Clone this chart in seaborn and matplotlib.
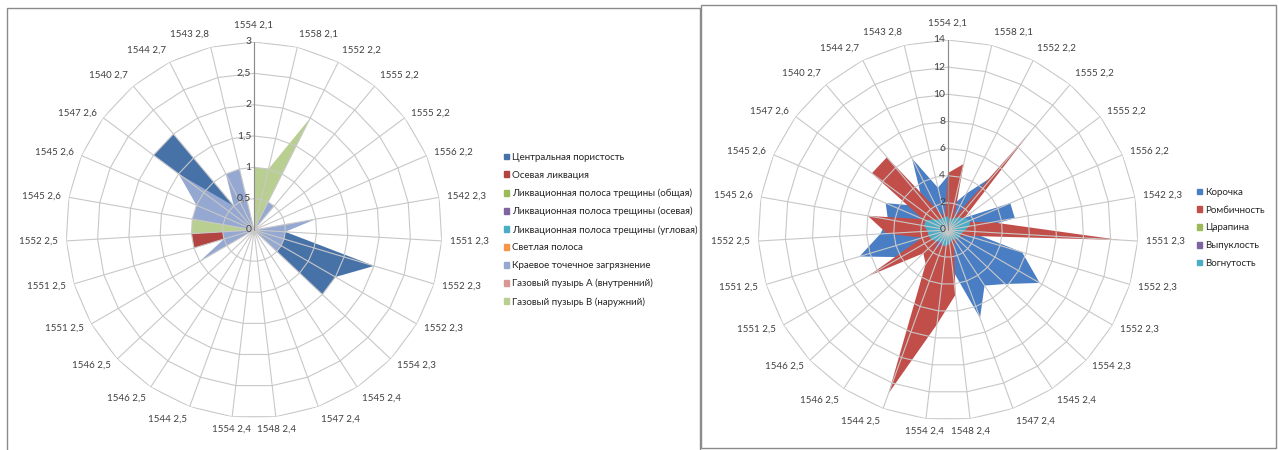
import numpy as np
import matplotlib
matplotlib.use('Agg')
import matplotlib.pyplot as plt
from matplotlib.patches import Patch, Rectangle
import seaborn as sns

sns.set_theme(style='white')
plt.rcParams['font.family'] = ['Lato', 'DejaVu Sans']
plt.rcParams['font.size'] = 7

# categories (clockwise from the top)
categories = ['1554 2,1', '1558 2,1', '1552 2,2', '1555 2,2', '1555 2,2', '1556 2,2',
              '1542 2,3', '1551 2,3', '1552 2,3', '1552 2,3', '1554 2,3', '1545 2,4',
              '1547 2,4', '1548 2,4', '1554 2,4', '1544 2,5', '1546 2,5', '1546 2,5',
              '1551 2,5', '1551 2,5', '1552 2,5', '1545 2,6', '1545 2,6', '1547 2,6',
              '1540 2,7', '1544 2,7', '1543 2,8']

# left chart
left_names = ['Центральная пористость', 'Осевая ликвация',
              'Ликвационная полоса трещины (общая)', 'Ликвационная полоса трещины (осевая)',
              'Ликвационная полоса трещины (угловая)', 'Светлая полоса',
              'Краевое точечное загрязнение', 'Газовый пузырь A (внутренний)',
              'Газовый пузырь B (наружний)']
left_colors = ['#4672A8', '#B24541', '#9BBB59', '#8064A2', '#4BACC6', '#F79646',
               '#95A8D2', '#D99694', '#B9CF92']
central_porosity = [0, 0, 0, 0, 0, 0, 0, 0.5, 2, 1.5, 1.5, 0, 0, 0, 0, 0, 0, 0,
                    0, 0, 0, 0, 0, 2, 2, 0, 0]
axial_segregation = [0, 0, 0, 0, 0, 0, 0, 0, 0, 0, 0, 0, 0, 0, 0, 0, 0, 0,
                     0, 1, 1, 0, 0, 0, 0, 0, 0]
crack_total = [0] * 27
crack_axial = [0] * 27
crack_corner = [0] * 27
light_band = [0] * 27
edge_dots = [0, 0, 0.5, 0.5, 0, 0, 1, 0.5, 0.5, 0.5, 0.5, 0, 0, 0, 0, 0, 0, 0,
             1, 0.5, 0.5, 1, 1, 1.5, 0.5, 1, 1]
gas_bubble_a = [0] * 27
gas_bubble_b = [1, 1, 2, 0, 0, 0, 0, 0, 0, 0, 0, 0, 0, 0, 0, 0, 0, 0,
                0, 0, 1, 1, 0, 0, 0, 0, 0]
left_series = [central_porosity, axial_segregation, crack_total, crack_axial,
               crack_corner, light_band, edge_dots, gas_bubble_a, gas_bubble_b]

# right chart
right_names = ['Корочка', 'Ромбичность', 'Царапина', 'Выпуклость', 'Вогнутость']
right_colors = ['#4A7EC4', '#C24E4A', '#9BBB59', '#8064A2', '#4BACC6']
crust = [4, 2, 3, 5.2, 1.5, 5, 5, 1.5, 5.7, 7.8, 5.8, 4.9, 6.9, 3, 2, 2, 2, 2,
         4, 6.8, 5, 4.5, 5, 3, 3, 5.9, 3.2]
rhombic = [4.2, 5, 1, 9.5, 1.5, 1.5, 3.3, 12.7, 1.5, 1, 1, 1, 1.3, 4.8, 7, 12.8, 3, 2.5,
           6.8, 2, 4.5, 6, 2, 7, 7, 1.5, 1]
scratch = [0] * 27
convex = [0, 0, 0.8, 1.5, 0.8, 0, 0, 0, 0, 0, 0, 0, 1, 1, 0, 1, 1.8, 1,
          0, 0, 0, 0, 0, 0, 0, 0, 0]
concave = [1, 0.8, 1, 1.2, 1.5, 1.8, 1.6, 1.2, 1, 1, 1, 0.8, 0.8, 1, 1.2, 1.2, 1, 1.2,
           1.4, 1.5, 1.5, 1.8, 1.8, 1.3, 1, 1, 1]
right_series = [crust, rhombic, scratch, convex, concave]

GRID = '#C8C8C8'


def radar(ax, series, colors, rmax, rstep):
    n = len(categories)
    angles = np.arange(n) * 2 * np.pi / n
    closed = np.append(angles, angles[0])
    ax.set_theta_zero_location('N')
    ax.set_theta_direction(-1)
    for vals, c in zip(series, colors):
        ax.fill(closed, np.append(vals, vals[0]), color=c, lw=0, zorder=1)

    ax.set_ylim(0, rmax)
    ax.set_yticks([])
    ax.set_xticks(angles)
    ax.set_xticklabels([])
    ax.spines['polar'].set_visible(False)
    ax.xaxis.grid(True, color=GRID, lw=0.8)
    ax.set_axisbelow(False)
    ax.set_facecolor('none')

    rings = np.arange(rstep, rmax + rstep / 2, rstep)
    for r in rings:
        ax.plot(closed, np.full(len(closed), r), color=GRID, lw=0.8, zorder=3)
    ax.plot([0, 0], [0, rmax], color='#8C8C8C', lw=0.8, zorder=4)

    for r in np.append(0, rings):
        ax.annotate(f'{r:g}'.replace('.', ','), xy=(0, r), xytext=(-2, 0),
                    textcoords='offset points', ha='right', va='center',
                    color='#404040', fontsize=7.5, zorder=5)

    for a, lab in zip(angles, categories):
        s, c = np.sin(a), np.cos(a)
        ha = 'center' if abs(s) < 0.15 else ('left' if s > 0 else 'right')
        va = 'center' if abs(c) < 0.7 else ('bottom' if c > 0 else 'top')
        off = 9 if a == 0 else 6
        ax.annotate(lab, xy=(a, rmax), xytext=(off * s, off * c),
                    textcoords='offset points', ha=ha, va=va,
                    color='#404040', annotation_clip=False)


fig = plt.figure(figsize=(12.79, 4.5), dpi=100)
W, H = 1279, 450

ax1 = fig.add_axes([66 / W, 1 - 418 / H, 376 / W, 376 / H], projection='polar')
radar(ax1, left_series, left_colors, 3, 0.5)

ax2 = fig.add_axes([758 / W, 1 - 420 / H, 380 / W, 380 / H], projection='polar')
radar(ax2, right_series, right_colors, 14, 2)

fig.legend([Patch(color=c) for c in left_colors], left_names, loc='upper left',
           bbox_to_anchor=(504 / W, 1 - 153 / H), frameon=False, fontsize=7,
           handlelength=0.55, handleheight=0.55, handletextpad=0.3,
           labelspacing=0.9, borderaxespad=0, borderpad=0)
fig.legend([Patch(color=c) for c in right_colors], right_names, loc='upper left',
           bbox_to_anchor=(1197 / W, 1 - 188 / H), frameon=False, fontsize=7,
           handlelength=0.55, handleheight=0.55, handletextpad=0.3,
           labelspacing=0.9, borderaxespad=0, borderpad=0)

# chart frames
fig.add_artist(Rectangle((7 / W, -0.01), 693 / W, 1 - 8 / H + 0.01, transform=fig.transFigure,
                         fill=False, ec='#8A8A8A', lw=1))
fig.add_artist(Rectangle((701 / W, 2 / H), 575 / W, 1 - 7 / H, transform=fig.transFigure,
                         fill=False, ec='#8A8A8A', lw=1))

fig.savefig('out.png', dpi=100)
